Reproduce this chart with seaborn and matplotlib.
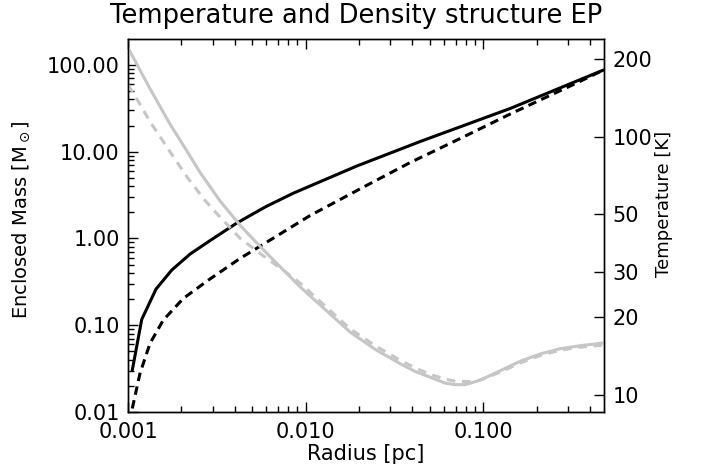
import numpy as np
import pandas as pd
import matplotlib
matplotlib.use("Agg")
import matplotlib.pyplot as plt
import matplotlib.ticker as mticker
import seaborn as sns

# ---- data ----
radius_mass_solid = [0.001057, 0.001195, 0.001438, 0.001763, 0.002236, 0.0029, 0.0041,
                     0.00596, 0.00855, 0.01946, 0.04426, 0.1423, 0.4776]
mass_solid = [0.0303, 0.1167, 0.2609, 0.4319, 0.661, 0.946, 1.505,
              2.32, 3.33, 6.84, 13.11, 31.5, 87.5]

radius_mass_dashed = [0.001057, 0.001168, 0.00133, 0.00158, 0.00205, 0.002836, 0.00428,
                      0.00632, 0.0106, 0.02124, 0.0389, 0.0744, 0.1423, 0.3236, 0.4776]
mass_dashed = [0.01097, 0.0278, 0.0617, 0.1146, 0.2037, 0.3313, 0.5895,
               0.958, 1.836, 3.92, 7.51, 14.2, 27.2, 59.6, 87.5]

radius_temp_solid = [0.001, 0.00133, 0.001725, 0.00211, 0.00255, 0.00331, 0.00428, 0.00521,
                     0.00632, 0.00932, 0.01784, 0.0247, 0.03414, 0.0416, 0.0504, 0.0612,
                     0.0697, 0.0794, 0.0964, 0.125, 0.162, 0.2101, 0.2724, 0.3533, 0.482]
temp_solid = [221, 153.5, 111.8, 89.7, 72.6, 56.2, 45.4, 39.3,
              34.3, 26.2, 17.5, 15.0, 13.2, 12.3, 11.7, 11.1,
              10.95, 10.95, 11.4, 12.4, 13.5, 14.4, 15.1, 15.5, 15.9]

radius_temp_dashed = [0.001, 0.001168, 0.00133, 0.001725, 0.00215, 0.00271, 0.0033, 0.00428,
                      0.0057, 0.00757, 0.00932, 0.01784, 0.0247, 0.03414, 0.0416, 0.0504,
                      0.0612, 0.0697, 0.0847, 0.0964, 0.125, 0.162, 0.2101, 0.2724, 0.3533, 0.482]
temp_dashed = [158.7, 133.6, 114.4, 87.4, 69.8, 56.7, 48.8, 40.4,
               34.8, 30.2, 27.1, 18.0, 15.5, 13.6, 12.7, 12.0,
               11.5, 11.3, 11.25, 11.4, 12.25, 13.3, 14.2, 14.9, 15.3, 15.6]

x_ticks = [0.001, 0.01, 0.1]
x_ticklabels = ["0.001", "0.010", "0.100"]
mass_ticks = [0.01, 0.1, 1, 10, 100]
mass_ticklabels = ["0.01", "0.10", "1.00", "10.00", "100.00"]
temp_ticks = [10, 20, 30, 50, 100, 200]
temp_ticklabels = ["10", "20", "30", "50", "100", "200"]

sns.set_style("white")
plt.rcParams['font.family'] = ['DejaVu Sans']
plt.rcParams['mathtext.fontset'] = 'dejavusans'
plt.rcParams['text.color'] = 'black'
plt.rcParams['axes.labelcolor'] = 'black'

W, H = 702, 475
L, R, T, B = 128, 604, 39, 412
fig = plt.figure(figsize=(W / 100, H / 100), dpi=100)
ax = fig.add_axes([L / W, 1 - B / H, (R - L) / W, (B - T) / H])
ax.set_xscale('log')
ax.set_yscale('log')

BLACK = '#000000'
GRAY = '#c6c6c6'
LW = 2.2

df_ms = pd.DataFrame({'r': radius_mass_solid, 'm': mass_solid})
df_md = pd.DataFrame({'r': radius_mass_dashed, 'm': mass_dashed})
sns.lineplot(data=df_ms, x='r', y='m', ax=ax, color=BLACK, linewidth=LW, sort=False)
sns.lineplot(data=df_md, x='r', y='m', ax=ax, color=BLACK, linewidth=LW, sort=False,
             linestyle=(0, (2.8, 1.8)))

ax.set_xlim(0.001, 0.48)
ax.set_ylim(0.01, 199)

ax.xaxis.set_major_locator(mticker.FixedLocator(x_ticks))
ax.xaxis.set_major_formatter(mticker.FixedFormatter(x_ticklabels))
ax.xaxis.set_minor_locator(mticker.LogLocator(base=10, subs=np.arange(2, 10), numticks=20))
ax.xaxis.set_minor_formatter(mticker.NullFormatter())
ax.yaxis.set_major_locator(mticker.FixedLocator(mass_ticks))
ax.yaxis.set_major_formatter(mticker.FixedFormatter(mass_ticklabels))
ax.yaxis.set_minor_locator(mticker.LogLocator(base=10, subs=np.arange(2, 10), numticks=20))
ax.yaxis.set_minor_formatter(mticker.NullFormatter())

ax.tick_params(axis='both', which='both', direction='in', colors='black', labelsize=15)
ax.tick_params(axis='x', which='both', top=True, bottom=True, pad=7)
ax.tick_params(axis='y', which='both', left=True, right=False, pad=6)
ax.tick_params(which='major', length=7, width=1)
ax.tick_params(which='minor', length=4, width=1)
for s in ax.spines.values():
    s.set_color('black')
    s.set_linewidth(1)

ax.set_xlabel('Radius [pc]', fontsize=15, labelpad=2, color='black')
ax.set_ylabel(r'Enclosed Mass [M$_\odot$]', fontsize=14, color='black')
ax.yaxis.set_label_coords((32 - L) / (R - L), (B - 220) / (B - T))

ax2 = ax.twinx()
ax2.set_yscale('log')
df_ts = pd.DataFrame({'r': radius_temp_solid, 't': temp_solid})
df_td = pd.DataFrame({'r': radius_temp_dashed, 't': temp_dashed})
sns.lineplot(data=df_ts, x='r', y='t', ax=ax2, color=GRAY, linewidth=LW, sort=False)
sns.lineplot(data=df_td, x='r', y='t', ax=ax2, color=GRAY, linewidth=LW, sort=False,
             linestyle=(0, (2.8, 2.2)))
ax2.set_xlim(0.001, 0.48)
ax2.set_ylim(8.58, 239)
ax2.yaxis.set_major_locator(mticker.FixedLocator(temp_ticks))
ax2.yaxis.set_major_formatter(mticker.FixedFormatter(temp_ticklabels))
ax2.yaxis.set_minor_locator(mticker.NullLocator())
ax2.tick_params(axis='y', which='major', direction='in', length=7, width=1,
                labelsize=15, pad=6, colors='black')
ax2.set_ylabel('Temperature [K]', fontsize=13, color='black')
ax2.yaxis.set_label_coords((655 - L) / (R - L), (B - 204) / (B - T))
ax2.set_xlabel('')
for s in ax2.spines.values():
    s.set_color('black')
    s.set_linewidth(1)

fig.text(356 / W, 1 - 16 / H, 'Temperature and Density structure EP', ha='center', va='center',
         fontsize=18.5, color='black')

fig.savefig('out.png', dpi=100)
